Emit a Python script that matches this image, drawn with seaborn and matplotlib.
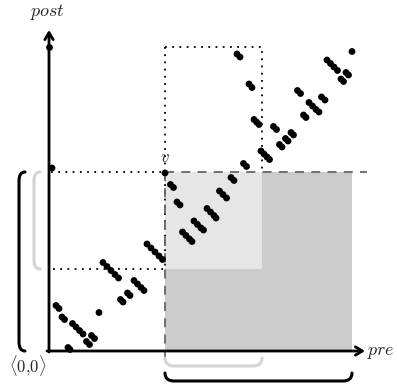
import matplotlib
matplotlib.use("Agg")
import matplotlib.pyplot as plt
from matplotlib.path import Path
from matplotlib.patches import PathPatch, Rectangle
import seaborn as sns
import pandas as pd

# node positions in the pre/post plane
pre = [7, 10, 13, 15.5, 23.5, 27, 30.5, 34, 37.5, 40.5, 42.5, 45.5, 19, 21, 50,
       54, 58, 62, 66, 69.5, 71.5, 74, 78.5, 81, 85, 88.5, 92, 95,
       98, 102, 106, 110, 113.5,
       116, 121.5, 124.5, 128, 131, 133.5, 137, 140.5, 143, 145, 148.5, 152, 154.5,
       158, 161.5, 165, 167, 170.5, 174, 177.5, 182, 185, 194.5, 197.5,
       188, 191, 200, 203, 205, 207.5, 210, 212, 215, 218, 220.5,
       224.5, 227.5, 230.5, 233, 236.5, 239, 242, 244.5, 248.5, 251.5, 254.5, 257,
       260, 263.5, 267, 270, 272.5, 276, 278, 281.5, 285, 288.5, 292, 294.5,
       297, 299.5, 303, 0.5, 3]
post = [45.5, 42.5, 34, 31.5, 27.5, 24, 20.5, 17, 9.5, 6.5, 15.5, 12.5, 3.5, 1.5, 38.5,
        88.5, 84.5, 80.5, 76.5, 73, 51.5, 49, 58, 55.5, 70.5, 67, 63.5, 60.5,
        107, 103, 99, 95, 91.5,
        178, 166.5, 163.5, 149, 146, 119, 115.5, 112, 109.5, 130, 126.5, 123, 121,
        142.5, 139, 135.5, 133, 160, 156.5, 153, 173.5, 170.5, 187.5, 184.5,
        297, 294, 267, 263.5, 231.5, 229, 226.5, 200, 197, 194, 191.5,
        224.5, 221.5, 206.5, 204, 212.5, 210, 218.5, 216, 260.5, 257.5, 236, 233.5,
        248.5, 245, 241.5, 239, 254, 251, 291, 287.5, 284, 280.5, 272, 269.5,
        278.5, 276, 299.5, 303.5, 183]

# node v and the extents of its regions
v_pre, v_post = 116, 179
desc_pre_end = 213     # last descendant (pre)
anc_post_end = 304     # top of the ancestor box
desc_post_start = 82   # first descendant (post)
last_pre = 303
axis_len_x, axis_len_y = 316, 321

sns.set_style("white")
plt.rcParams["mathtext.fontset"] = "cm"
plt.rcParams["font.family"] = ["DejaVu Serif"]

fig = plt.figure(figsize=(3.97, 3.85), dpi=100)
ax = fig.add_axes([0, 0, 1, 1])
ax.set_xlim(-49, 348)
ax.set_ylim(-34, 351)
ax.set_axis_off()

# shaded regions
ax.add_patch(Rectangle((v_pre, 0), last_pre - v_pre, v_post, color="#cccccc", lw=0, zorder=1))
ax.add_patch(Rectangle((v_pre, desc_post_start), desc_pre_end - v_pre, v_post - desc_post_start,
                       color="#e6e6e6", lw=0, zorder=1))

# dotted guides
dot = dict(color="black", lw=1.3, ls=(0, (1, 3)), zorder=2)
ax.plot([2, v_pre], [v_post, v_post], **dot)
ax.plot([4, v_pre], [desc_post_start, desc_post_start], **dot)
ax.plot([v_pre, v_pre], [anc_post_end, desc_post_start], **dot)
ax.plot([v_pre, desc_pre_end, desc_pre_end], [anc_post_end, anc_post_end, v_post], **dot)

# dashed guides
dash = dict(color="#666666", lw=1.3, ls=(0, (5, 4)), zorder=2)
ax.plot([v_pre, 318], [v_post, v_post], **dash)
ax.plot([v_pre, v_pre], [v_post, -11], **dash)

# axes with open arrow heads
arrow = dict(arrowstyle="->,head_length=0.5,head_width=0.3", lw=2, color="black",
             shrinkA=0, shrinkB=0)
ax.annotate("", xy=(0, axis_len_y), xytext=(0, -1), arrowprops=arrow, zorder=3)
ax.annotate("", xy=(axis_len_x, 0), xytext=(-2, 0), arrowprops=arrow, zorder=3)

# points
df = pd.DataFrame({"pre": pre, "post": post})
sns.scatterplot(data=df, x="pre", y="post", ax=ax, color="black", s=24,
                edgecolor="none", zorder=4, legend=False)


def bracket(a, b, pos, depth, r, vertical, color):
    if vertical:
        verts = [(pos + depth, b), (pos, b), (pos, b - r), (pos, a + r),
                 (pos, a), (pos + depth, a)]
    else:
        verts = [(a, pos + depth), (a, pos), (a + r, pos), (b - r, pos),
                 (b, pos), (b, pos + depth)]
    codes = [Path.MOVETO, Path.CURVE3, Path.CURVE3, Path.LINETO, Path.CURVE3, Path.CURVE3]
    ax.add_patch(PathPatch(Path(verts, codes), fill=False, lw=2.2, color=color,
                           capstyle="round", zorder=3))


bracket(0, v_post, -30, 6, 9, True, "black")
bracket(desc_post_start, v_post, -15, 6, 9, True, "#d4d4d4")
bracket(v_pre, desc_pre_end, -15, 8, 9, False, "#d4d4d4")
bracket(v_pre, last_pre, -30, 8, 9, False, "black")

# labels
ax.text(-2, 339, "$post$", fontsize=13, ha="center", va="center")
ax.text(318, -1, "$pre$", fontsize=13, ha="left", va="center")
ax.text(v_pre, 193, "$v$", fontsize=12, ha="center", va="center")
ax.text(-21, -15, r"$\langle 0{,}0\rangle$", fontsize=12, ha="center", va="center")

fig.savefig("out.png", dpi=100)
